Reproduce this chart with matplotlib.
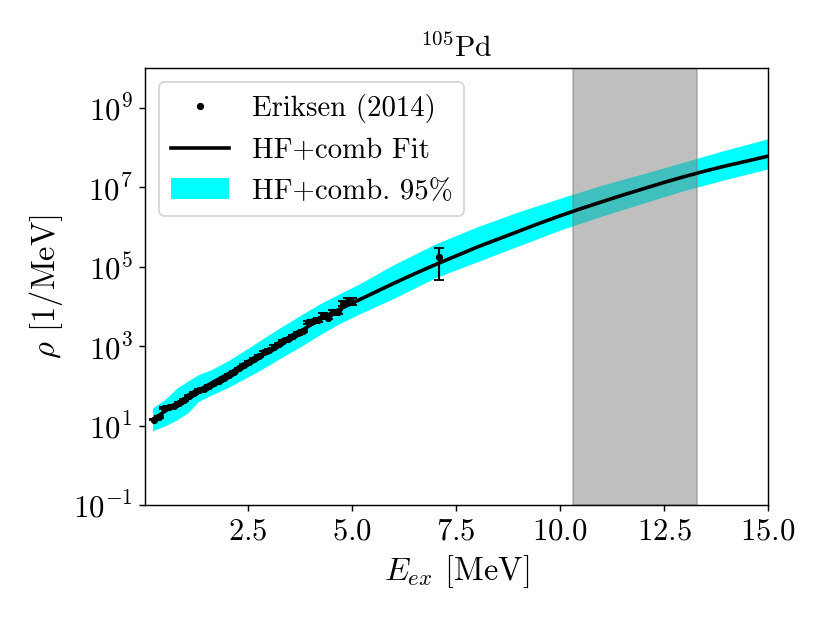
import numpy as np
import matplotlib
matplotlib.use('Agg')
import matplotlib.pyplot as plt
from matplotlib.ticker import NullLocator

plt.rcParams.update({
    'font.family': ['cmr10', 'DejaVu Serif'],
    'mathtext.fontset': 'cm',
    'axes.formatter.use_mathtext': True,
    'font.size': 16,
    'xtick.labelsize': 17,
    'ytick.labelsize': 17,
    'axes.labelsize': 18,
    'axes.titlesize': 16.5,
    'legend.fontsize': 16,
})

# Oslo data (Eriksen 2014), log10(rho)
E_data = [0.23, 0.35, 0.47, 0.59, 0.71, 0.83, 0.95, 1.07, 1.19, 1.31,
          1.43, 1.55, 1.67, 1.79, 1.91, 2.03, 2.15, 2.27, 2.39, 2.51,
          2.63, 2.75, 2.87, 2.99, 3.11, 3.23, 3.35, 3.47, 3.59, 3.71,
          3.83, 3.95, 4.07, 4.19, 4.31, 4.43, 4.55, 4.67, 4.79, 4.91,
          5.00, 7.09]
log_rho_data = [1.15, 1.22, 1.44, 1.47, 1.50, 1.57, 1.65, 1.74, 1.82, 1.90,
                1.92, 2.00, 2.06, 2.12, 2.20, 2.28, 2.36, 2.44, 2.52, 2.60,
                2.68, 2.76, 2.84, 2.91, 2.99, 3.06, 3.13, 3.18, 3.25, 3.32,
                3.38, 3.60, 3.62, 3.66, 3.78, 3.72, 3.85, 3.86, 4.08, 4.14,
                4.12, 5.24]
rel_err = [0.05, 0.05, 0.05, 0.05, 0.05, 0.05, 0.05, 0.05, 0.05, 0.05,
           0.05, 0.05, 0.05, 0.05, 0.05, 0.05, 0.05, 0.05, 0.05, 0.05,
           0.06, 0.06, 0.06, 0.06, 0.06, 0.06, 0.07, 0.07, 0.07, 0.07,
           0.08, 0.08, 0.09, 0.09, 0.10, 0.10, 0.12, 0.12, 0.15, 0.18,
           0.20, 0.73]

# HF+comb fit curve
E_fit = [0.2, 0.5, 1.0, 1.5, 2.0, 2.5, 3.0, 3.5, 4.0, 4.5, 5.0, 5.5, 6.0,
         6.5, 7.0, 7.5, 8.0, 8.5, 9.0, 9.5, 10.0, 10.5, 11.0, 11.5, 12.0,
         12.5, 13.0, 13.5, 14.0, 14.5, 15.0]
log_rho_fit = [1.15, 1.36, 1.70, 2.00, 2.29, 2.59, 2.90, 3.21, 3.53, 3.83,
               4.08, 4.33, 4.58, 4.82, 5.05, 5.27, 5.49, 5.69, 5.89, 6.09,
               6.28, 6.46, 6.63, 6.80, 6.96, 7.12, 7.27, 7.41, 7.54, 7.66,
               7.78]

# 95% band
E_band = [0.2, 0.5, 0.8, 1.05, 1.3, 1.6, 2.0, 2.4, 2.8, 3.25, 3.75, 4.2,
          4.7, 5.2, 6.0, 7.0, 8.0, 9.0, 10.0, 11.0, 12.0, 13.0, 14.0, 15.0]
log_band_hi = [1.44, 1.66, 1.95, 2.12, 2.28, 2.40, 2.62, 2.88, 3.15, 3.45,
               3.77, 4.05, 4.32, 4.58, 5.05, 5.57, 6.00, 6.38, 6.72, 7.05,
               7.34, 7.64, 7.94, 8.22]
log_band_lo = [0.87, 0.99, 1.15, 1.32, 1.60, 1.76, 1.95, 2.17, 2.40, 2.68,
               2.98, 3.27, 3.57, 3.82, 4.20, 4.72, 5.12, 5.52, 5.92, 6.27,
               6.60, 6.92, 7.20, 7.46]

# neutron separation region
shade_lo, shade_hi = 10.3, 13.3

rho_data = 10 ** np.array(log_rho_data)
rho_err = rho_data * np.array(rel_err)

fig = plt.figure(figsize=(830 / 130, 623 / 130), dpi=130)
ax = fig.add_axes([0.1747, 0.1894, 0.7506, 0.7014])

band = ax.fill_between(E_band, 10 ** np.array(log_band_lo), 10 ** np.array(log_band_hi),
                       color='cyan', lw=0, label='HF+comb. 95%')
ax.axvspan(shade_lo, shade_hi, color='gray', alpha=0.5)
fit, = ax.plot(E_fit, 10 ** np.array(log_rho_fit), color='k', lw=2, label='HF+comb Fit')
ax.errorbar(E_data, rho_data, yerr=rho_err, fmt='k.', capsize=3, elinewidth=1.2)
dots, = ax.plot([], [], 'k.', label='Eriksen (2014)')

ax.set_yscale('log')
ax.set_xlim(0.02, 15)
ax.set_ylim(1e-1, 1e10)
ax.set_yticks([1e-1, 1e1, 1e3, 1e5, 1e7, 1e9])
ax.yaxis.set_minor_locator(NullLocator())
ax.set_xticks([2.5, 5.0, 7.5, 10.0, 12.5, 15.0])

ax.set_xlabel(r'$E_{ex}$ [MeV]')
ax.set_ylabel(r'$\rho$ [1/MeV]')
ax.set_title(r'$^{105}$Pd')
ax.legend(handles=[dots, fit, band], loc='upper left')

fig.savefig('out.png', dpi=130)
